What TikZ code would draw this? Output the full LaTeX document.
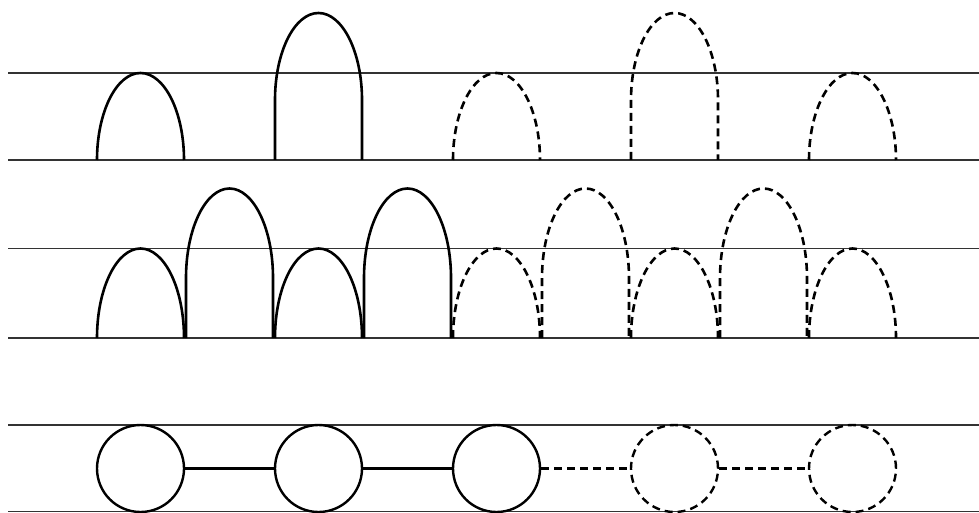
\documentclass[tikz,border=0pt]{standalone}
\begin{document}
\begin{tikzpicture}[x=1pt,y=-1pt,
  rule/.style={line width=1.2pt, draw=black!80},
  archline/.style={line width=2.6pt, line join=round, draw=black},
  dsh/.style={dash pattern=on 8pt off 5pt},
  circ/.style={circle, draw=black, line width=2.4pt, minimum size=87pt, inner sep=0pt},
  link/.style={line width=2.2pt, draw=black}]
\useasboundingbox (0,0) rectangle (979,513);
% horizontal rules
\foreach \yy in {73,160,248.5,338,425,511.5}
  \draw[rule] (8,\yy) -- (979,\yy);
% row 1
\foreach \k/\t/\s in {0/0/solid, 2/60/solid, 4/0/dsh, 6/60/dsh, 8/0/dsh}
  \draw[archline,\s] ({97+89*\k},160) -- ++(0,-\t)
    arc[start angle=180,end angle=360,x radius=43.5,y radius=87] -- ++(0,\t);
% row 2
\foreach \k/\t/\s in {0/0/solid, 1/60/solid, 2/0/solid, 3/60/solid, 4/0/dsh, 5/60/dsh, 6/0/dsh, 7/60/dsh, 8/0/dsh}
  \draw[archline,\s] ({97+89*\k},338) -- ++(0,-\t)
    arc[start angle=180,end angle=360,x radius=43.5,y radius=89.5] -- ++(0,\t);
% row 3
\node[circ] (c1) at (140.5,468.5) {};
\node[circ] (c2) at (318.5,468.5) {};
\node[circ] (c3) at (496.5,468.5) {};
\node[circ,dsh] (c4) at (674.5,468.5) {};
\node[circ,dsh] (c5) at (852.5,468.5) {};
\draw[link] (c1) -- (c2);
\draw[link] (c2) -- (c3);
\draw[link,dsh] (c3) -- (c4);
\draw[link,dsh] (c4) -- (c5);
\end{tikzpicture}
\end{document}
